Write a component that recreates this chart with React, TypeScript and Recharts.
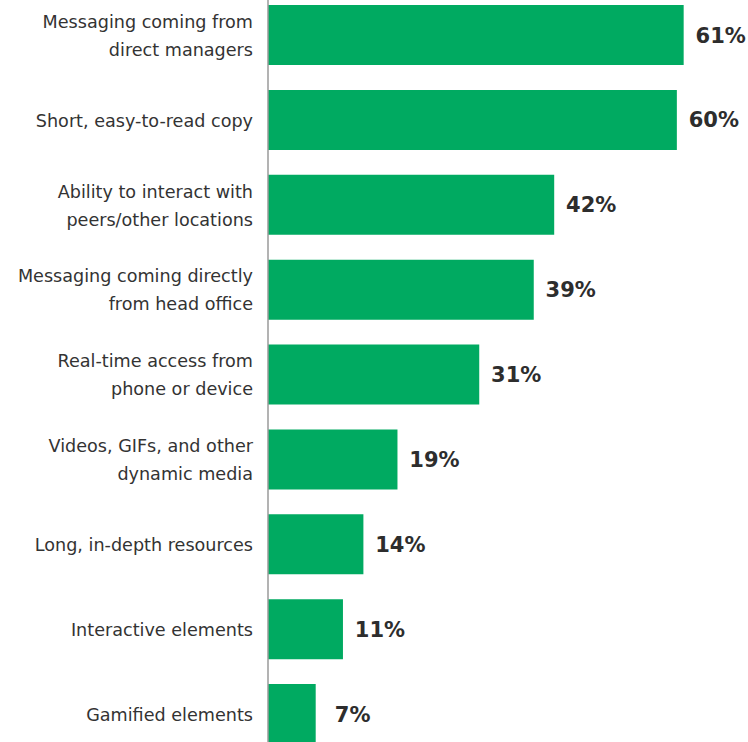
import { Bar, BarChart, LabelList, XAxis, YAxis } from "recharts";

const categories = [
  "Messaging coming from\ndirect managers",
  "Short, easy-to-read copy",
  "Ability to interact with\npeers/other locations",
  "Messaging coming directly\nfrom head office",
  "Real-time access from\nphone or device",
  "Videos, GIFs, and other\ndynamic media",
  "Long, in-depth resources",
  "Interactive elements",
  "Gamified elements",
];

const shares = [61, 60, 42, 39, 31, 19, 14, 11, 7];

const data = categories.map((name, i) => ({ name, value: shares[i] }));

const FONT = "'DejaVu Sans', sans-serif";

function CategoryTick(props: any) {
  const { x, y, payload } = props;
  const lines: string[] = String(payload.value).split("\n");
  const start = -((lines.length - 1) * 28) / 2;
  return (
    <text
      x={x}
      y={y}
      textAnchor="end"
      fill="#333333"
      fontFamily={FONT}
      fontSize={17.6}
    >
      {lines.map((line, i) => (
        <tspan key={i} x={x} y={y + start + i * 28} dy="0.36em">
          {line}
        </tspan>
      ))}
    </text>
  );
}

function ValueLabel(props: any) {
  const { x, y, width, height, value } = props;
  return (
    <text
      x={x + width + 37}
      y={y + height / 2}
      dy="0.36em"
      textAnchor="middle"
      fill="#2d2d2d"
      fontFamily={FONT}
      fontWeight={700}
      fontSize={21}
    >
      {value}%
    </text>
  );
}

export default function App() {
  return (
    <div style={{ position: "absolute", top: -7, left: 0 }}>
      <BarChart
        width={748}
        height={764}
        data={data}
        layout="vertical"
        margin={{ top: 0, right: 3, bottom: 0, left: 0 }}
        barSize={60}
      >
        <XAxis type="number" domain={[0, 70]} hide />
        <YAxis
          type="category"
          dataKey="name"
          width={268}
          tickLine={false}
          tickSize={0}
          tickMargin={15}
          axisLine={{ stroke: "#9a9a9a", strokeWidth: 1.5 }}
          tick={<CategoryTick />}
          interval={0}
        />
        <Bar dataKey="value" fill="#00aa61" isAnimationActive={false}>
          <LabelList dataKey="value" content={<ValueLabel />} />
        </Bar>
      </BarChart>
    </div>
  );
}
